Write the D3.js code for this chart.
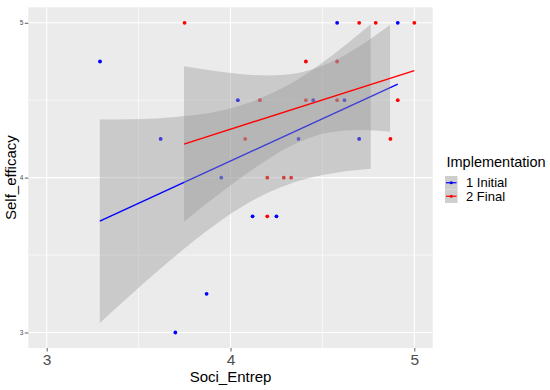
<!DOCTYPE html>
<html>
<head>
<meta charset="utf-8">
<script src="https://cdn.jsdelivr.net/npm/d3@7"></script>
<style>
  html, body { margin: 0; padding: 0; background: #ffffff; }
  svg { display: block; font-family: "Liberation Sans", Arial, sans-serif; }
</style>
</head>
<body>
<svg id="chart" width="550" height="390"></svg>
<script>
// ---- data ----
const xTicks = [3, 4, 5];
const yTicks = [3, 4, 5];
const xMinor = [3.5, 4.5];
const yMinor = [3.5, 4.5];
const groups = ["1 Initial", "2 Final"];
const groupColors = ["#0000FF", "#FF0000"];

// Points: Initial (blue)
const initialX = [3.29, 3.62, 3.70, 3.87, 3.95, 4.04, 4.12, 4.25, 4.37, 4.45, 4.58, 4.62, 4.70, 4.91];
const initialY = [4.75, 4.25, 3.00, 3.25, 4.00, 4.50, 3.75, 3.75, 4.25, 4.50, 5.00, 4.50, 4.25, 5.00];
// Points: Final (red)
const finalX = [3.75, 4.08, 4.16, 4.20, 4.20, 4.29, 4.33, 4.41, 4.41, 4.58, 4.58, 4.70, 4.79, 4.87, 4.91, 5.00];
const finalY = [5.00, 4.25, 4.50, 4.00, 3.75, 4.00, 4.00, 4.75, 4.50, 4.75, 4.50, 5.00, 5.00, 4.25, 4.50, 5.00];

// Linear fits (end points)
const fitInitX = [3.289, 4.910];
const fitInitY = [3.719, 4.604];
const fitFinalX = [3.747, 5.000];
const fitFinalY = [4.217, 4.691];

// Confidence bands
const ribInitX  = [3.289, 3.452, 3.615, 3.778, 3.941, 4.103, 4.266, 4.429, 4.591, 4.763];
const ribInitLo = [3.062, 3.238, 3.408, 3.570, 3.717, 3.841, 3.935, 3.998, 4.035, 4.057];
const ribInitHi = [4.375, 4.377, 4.384, 4.401, 4.431, 4.485, 4.569, 4.683, 4.824, 4.990];
const ribFinalX  = [3.747, 3.886, 4.049, 4.212, 4.374, 4.537, 4.700, 4.868];
const ribFinalLo = [3.715, 3.847, 3.993, 4.126, 4.230, 4.291, 4.307, 4.297];
const ribFinalHi = [4.719, 4.693, 4.669, 4.660, 4.678, 4.740, 4.847, 4.985];

// ---- layout ----
const svg = d3.select("#chart");
const panel = { left: 28.3, right: 432.7, top: 7.3, bottom: 348 };
const x = d3.scaleLinear().domain([2.9, 5.1]).range([panel.left, panel.right]);
const y = d3.scaleLinear().domain([2.9, 5.1]).range([panel.bottom, panel.top]);

svg.append("defs").append("clipPath").attr("id", "clip")
  .append("rect").attr("x", panel.left).attr("y", panel.top)
  .attr("width", panel.right - panel.left).attr("height", panel.bottom - panel.top);

// panel background
svg.append("rect").attr("x", panel.left).attr("y", panel.top)
  .attr("width", panel.right - panel.left).attr("height", panel.bottom - panel.top)
  .attr("fill", "#EBEBEB");

const grid = svg.append("g");
grid.selectAll(".vminor").data(xMinor).enter().append("line")
  .attr("x1", d => x(d)).attr("x2", d => x(d)).attr("y1", panel.top).attr("y2", panel.bottom)
  .attr("stroke", "#ffffff").attr("stroke-width", 0.6);
grid.selectAll(".hminor").data(yMinor).enter().append("line")
  .attr("y1", d => y(d)).attr("y2", d => y(d)).attr("x1", panel.left).attr("x2", panel.right)
  .attr("stroke", "#ffffff").attr("stroke-width", 0.6);
grid.selectAll(".vmajor").data(xTicks).enter().append("line")
  .attr("x1", d => x(d)).attr("x2", d => x(d)).attr("y1", panel.top).attr("y2", panel.bottom)
  .attr("stroke", "#ffffff").attr("stroke-width", 1.1);
grid.selectAll(".hmajor").data(yTicks).enter().append("line")
  .attr("y1", d => y(d)).attr("y2", d => y(d)).attr("x1", panel.left).attr("x2", panel.right)
  .attr("stroke", "#ffffff").attr("stroke-width", 1.1);

const plot = svg.append("g").attr("clip-path", "url(#clip)");

// points
const pts = [
  initialX.map((v, i) => ({ x: v, y: initialY[i], g: 0 })),
  finalX.map((v, i) => ({ x: v, y: finalY[i], g: 1 }))
].flat();
plot.selectAll(".pt").data(pts).enter().append("circle")
  .attr("cx", d => x(d.x)).attr("cy", d => y(d.y)).attr("r", 1.9)
  .attr("fill", d => groupColors[d.g]);

const area = d3.area().x(d => x(d.x)).y0(d => y(d.lo)).y1(d => y(d.hi)).curve(d3.curveMonotoneX);
const line = d3.line().x(d => x(d.x)).y(d => y(d.y));

const ribbons = [
  ribInitX.map((v, i) => ({ x: v, lo: ribInitLo[i], hi: ribInitHi[i] })),
  ribFinalX.map((v, i) => ({ x: v, lo: ribFinalLo[i], hi: ribFinalHi[i] }))
];
const fits = [
  fitInitX.map((v, i) => ({ x: v, y: fitInitY[i] })),
  fitFinalX.map((v, i) => ({ x: v, y: fitFinalY[i] }))
];

[0, 1].forEach(g => {
  plot.append("path").datum(ribbons[g]).attr("d", area)
    .attr("fill", "#999999").attr("fill-opacity", 0.4);
  plot.append("path").datum(fits[g]).attr("d", line)
    .attr("fill", "none").attr("stroke", groupColors[g]).attr("stroke-width", 1.4);
});

// axes
const xAxis = svg.append("g").attr("transform", `translate(0,${panel.bottom})`)
  .call(d3.axisBottom(x).tickValues(xTicks).tickSize(3.5).tickPadding(2.5).tickFormat(d3.format("d")));
xAxis.select(".domain").remove();
xAxis.selectAll(".tick line").attr("stroke", "#333333").attr("stroke-width", 0.8);
xAxis.selectAll(".tick text").attr("fill", "#4D4D4D").attr("font-size", "15.5px")
  .attr("font-family", "Liberation Sans, Arial, sans-serif");

const yAxis = svg.append("g").attr("transform", `translate(${panel.left},0)`)
  .call(d3.axisLeft(y).tickValues(yTicks).tickSize(3.5).tickPadding(1.5).tickFormat(d3.format("d")));
yAxis.select(".domain").remove();
yAxis.selectAll(".tick line").attr("stroke", "#333333").attr("stroke-width", 0.8);
yAxis.selectAll(".tick text").attr("fill", "#4D4D4D").attr("font-size", "6.5px")
  .attr("font-family", "Liberation Sans, Arial, sans-serif");

// axis titles
svg.append("text").attr("x", (panel.left + panel.right) / 2).attr("y", 381.5)
  .attr("text-anchor", "middle").attr("font-size", "15px").attr("fill", "#000")
  .text("Soci_Entrep");
svg.append("text").attr("transform", `translate(16,${(panel.top + panel.bottom) / 2}) rotate(-90)`)
  .attr("text-anchor", "middle").attr("font-size", "15px").attr("fill", "#000")
  .text("Self_efficacy");

// legend
const leg = svg.append("g");
leg.append("text").attr("x", 446.5).attr("y", 166.5).attr("font-size", "14.5px").attr("fill", "#000")
  .text("Implementation");
const keySize = 13.5, keyX = 445, keyY0 = 176;
groups.forEach((name, i) => {
  const ky = keyY0 + i * keySize;
  leg.append("rect").attr("x", keyX).attr("y", ky).attr("width", 12.5).attr("height", keySize)
    .attr("fill", "#F2F2F2");
  leg.append("rect").attr("x", keyX).attr("y", ky).attr("width", 12.5).attr("height", keySize)
    .attr("fill", "#999999").attr("fill-opacity", 0.4);
  leg.append("line").attr("x1", keyX + 1).attr("x2", keyX + 11.5)
    .attr("y1", ky + keySize / 2).attr("y2", ky + keySize / 2)
    .attr("stroke", groupColors[i]).attr("stroke-width", 1.2);
  leg.append("circle").attr("cx", keyX + 6.25).attr("cy", ky + keySize / 2).attr("r", 1.6)
    .attr("fill", groupColors[i]);
  leg.append("text").attr("x", 466).attr("y", ky + keySize / 2 + 4.7).attr("font-size", "13px")
    .attr("fill", "#000").text(name);
});
</script>
</body>
</html>
